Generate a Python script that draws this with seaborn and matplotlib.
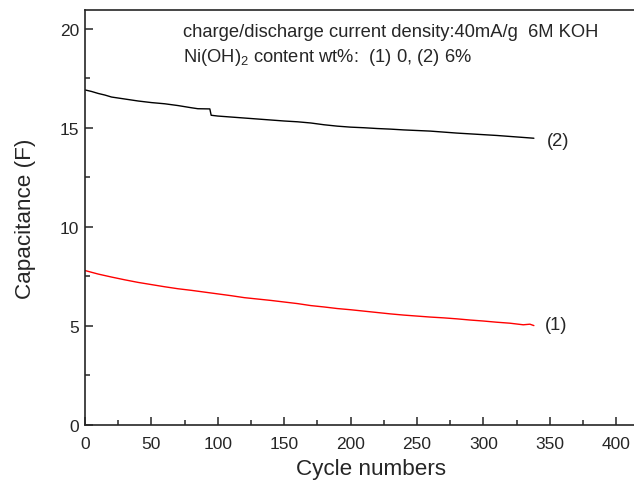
import matplotlib
matplotlib.use("Agg")
import matplotlib.pyplot as plt
import numpy as np
import pandas as pd
import seaborn as sns
from matplotlib.ticker import MultipleLocator

# ── Data ────────────────────────────────────────────────────────────────
cycles_2 = [0, 5, 10, 15, 20, 30, 40, 50, 60, 70, 80, 85, 94, 95, 100, 110,
            120, 130, 140, 150, 160, 170, 180, 190, 200, 210, 220, 230, 240,
            250, 260, 270, 280, 290, 300, 310, 320, 330, 338]
cap_2 = [16.92, 16.84, 16.74, 16.66, 16.56, 16.46, 16.36, 16.28, 16.22,
         16.13, 16.02, 15.97, 15.96, 15.64, 15.60, 15.55, 15.50, 15.45,
         15.40, 15.35, 15.31, 15.25, 15.16, 15.09, 15.04, 15.01, 14.97,
         14.94, 14.90, 14.87, 14.84, 14.79, 14.74, 14.70, 14.66, 14.62,
         14.57, 14.52, 14.48]

cycles_1 = [0, 10, 20, 30, 40, 50, 60, 70, 80, 90, 100, 110, 120, 130, 140,
            150, 160, 170, 180, 190, 200, 210, 220, 230, 240, 250, 260, 270,
            280, 290, 300, 310, 320, 330, 335, 338]
cap_1 = [7.80, 7.62, 7.47, 7.33, 7.20, 7.09, 6.98, 6.88, 6.80, 6.71, 6.62,
         6.53, 6.43, 6.36, 6.29, 6.21, 6.13, 6.03, 5.96, 5.88, 5.82, 5.75,
         5.68, 5.61, 5.55, 5.50, 5.45, 5.41, 5.36, 5.30, 5.25, 5.19, 5.14,
         5.06, 5.09, 5.02]

sample_labels = ["(1)", "(2)"]
sample_colors = {"(1)": "#ff0000", "(2)": "#000000"}

df = pd.concat([
    pd.DataFrame({"cycle": cycles_1, "cap": cap_1, "sample": "(1)"}),
    pd.DataFrame({"cycle": cycles_2, "cap": cap_2, "sample": "(2)"}),
])

sns.set_style("ticks")
plt.rcParams["font.family"] = ["Liberation Sans", "DejaVu Sans"]
plt.rcParams["mathtext.fontset"] = "custom"
plt.rcParams["mathtext.rm"] = "Liberation Sans"
plt.rcParams["mathtext.it"] = "Liberation Sans"

fig = plt.figure(figsize=(6.34, 4.81), dpi=100)
# the original plot runs past the right edge of the crop
ax = fig.add_axes([85 / 634, 55 / 481, (657 - 85) / 634, (426 - 10.7) / 481])

sns.lineplot(data=df, x="cycle", y="cap", hue="sample", palette=sample_colors,
             hue_order=sample_labels, linewidth=1.0, legend=False, ax=ax,
             estimator=None, sort=False)

ax.set_xlim(0, 430.7)
ax.set_ylim(0, 20.97)
ax.xaxis.set_major_locator(MultipleLocator(50))
ax.xaxis.set_minor_locator(MultipleLocator(25))
ax.yaxis.set_major_locator(MultipleLocator(5))
ax.yaxis.set_minor_locator(MultipleLocator(2.5))
ax.tick_params(which="major", direction="in", length=6, width=1.1,
               labelsize=12.5)
ax.tick_params(axis="x", pad=8)
ax.tick_params(axis="y", pad=4)
ax.tick_params(which="minor", direction="in", length=3.5, width=1.1)
ax.tick_params(axis="y", which="both", right=False)
ax.tick_params(axis="x", which="both", top=False)

for side in ["left", "bottom", "top"]:
    ax.spines[side].set_linewidth(1.2)
    ax.spines[side].set_visible(True)
ax.spines["right"].set_visible(False)

ax.set_xlabel("Cycle numbers", fontsize=16.2, labelpad=5)
ax.set_ylabel("Capacitance (F)", fontsize=16.2, labelpad=17)

ax.text(73.8, 19.85, "charge/discharge current density:40mA/g  6M KOH",
        fontsize=13.2, va="center", ha="left")
ax.text(73.8, 18.6, r"Ni(OH)$_2$ content wt%:  (1) 0, (2) 6%",
        fontsize=13.2, va="center", ha="left")

ax.text(cycles_2[-1] + 10, cap_2[-1] - 0.12, "(2)", fontsize=13.2,
        va="center", ha="left")
ax.text(cycles_1[-1] + 8, cap_1[-1] + 0.03, "(1)", fontsize=13.2,
        va="center", ha="left")

fig.savefig("out.png", dpi=100)
